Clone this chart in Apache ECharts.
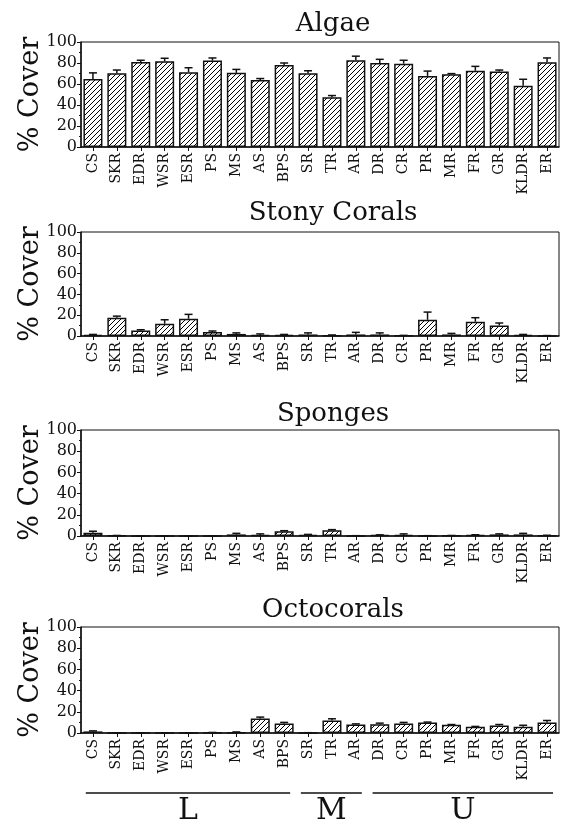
<!DOCTYPE html>
<html>
<head>
<meta charset="utf-8">
<script src="https://cdn.jsdelivr.net/npm/echarts@6/dist/echarts.min.js"></script>
<style>
html,body{margin:0;padding:0;background:#fff;}
#chart{width:561px;height:824px;}
</style>
</head>
<body>
<div id="chart"></div>
<script>
// ---------------- DATA ----------------
var categories = ['CS','SKR','EDR','WSR','ESR','PS','MS','AS','BPS','SR','TR','AR','DR','CR','PR','MR','FR','GR','KLDR','ER'];
var panelTitles = ['Algae','Stony Corals','Sponges','Octocorals'];

var algae    = [64.8,70.3,81,81.6,71.3,82.3,70.6,63.9,78,70.3,47.4,82.6,80,79.4,67.7,69.4,72.6,72,58.4,80.6];
var algaeErr = [5.8,3,1.6,2.9,4.2,2.5,3.3,1.3,2,2.3,1.6,3.9,3.5,3.2,4.6,0.5,4.2,1.3,6.1,4.2];

var stony    = [1,17.6,5.4,11.8,16.6,3.8,2,1,1,1.5,0.3,1.5,1.5,0.3,15.6,1.5,13.7,10.2,1,0.2];
var stonyErr = [0.5,1.5,0.6,3.8,4.2,1,1,1,0.5,1.5,0.7,2,1.5,0.3,7.4,1,3.9,2.3,0.5,0.2];

var sponges    = [3,0.3,0,0,0,0,1.5,1,4.5,1,5.5,0.2,0.8,1,0.2,0.3,0.8,1.5,1.5,0.5];
var spongesErr = [1.5,0.2,0,0,0,0,1,1,0.5,0.5,0.5,0.1,0.3,1,0.1,0.2,0.4,0.5,1,0.2];

var octo    = [1.5,0,0,0,0,0.3,0.5,13.7,9,0.2,11.8,8,8.3,9,10,7.7,5.8,7,6,10];
var octoErr = [0.5,0,0,0,0,0.2,0.5,1.3,1,0.1,1.6,0.6,1,1,0.3,0.3,0.4,1,1.3,1.8];

var yTicks = [0,20,40,60,80,100];
var yLabel = '% Cover';

var groupLabels = ['L','M','U'];
var groupFirst  = ['CS','SR','DR'];
var groupLast   = ['BPS','AR','ER'];

// ---------------- STYLE / LAYOUT ----------------
var FONT = 'DejaVu Serif';
var gridTops = [42, 232, 430, 627];
var gridHeights = [105, 104, 106, 106];
var titleTops = [6, 195, 396, 592];

function makeHatch(){
  var c = document.createElement('canvas');
  var s = 5;
  c.width = s; c.height = s;
  var ctx = c.getContext('2d');
  ctx.fillStyle = '#fff';
  ctx.fillRect(0,0,s,s);
  ctx.strokeStyle = '#000';
  ctx.lineWidth = 1;
  ctx.beginPath();
  ctx.moveTo(-1, s+1); ctx.lineTo(s+1, -1);
  ctx.moveTo(-1, 1); ctx.lineTo(1, -1);
  ctx.moveTo(s-1, s+1); ctx.lineTo(s+1, s-1);
  ctx.stroke();
  return c;
}
var hatch = makeHatch();

var values = [algae, stony, sponges, octo];
var errs = [algaeErr, stonyErr, spongesErr, octoErr];

var grids = [], xAxes = [], yAxes = [], series = [], titles = [];
for (var i = 0; i < 4; i++) {
  grids.push({left: 81, right: 2, top: gridTops[i], height: gridHeights[i], show: true, borderColor: '#111', borderWidth: 1, backgroundColor: 'transparent'});
  titles.push({text: panelTitles[i], left: 328, top: titleTops[i], textAlign: 'center',
    textStyle: {fontFamily: FONT, fontSize: 26, fontWeight: 'normal', color: '#111'}});
  xAxes.push({type: 'category', gridIndex: i, data: categories,
    axisLine: {lineStyle: {color: '#111', width: 1.5}},
    axisTick: {show: true, alignWithLabel: true, length: 4, lineStyle: {color: '#111'}},
    axisLabel: {rotate: 90, fontFamily: FONT, fontSize: 14, color: '#111', margin: 6, interval: 0}
  });
  yAxes.push({type: 'value', gridIndex: i, min: yTicks[0], max: yTicks[yTicks.length-1], interval: 20,
    name: yLabel, nameLocation: 'middle', nameRotate: 90, nameGap: 37, nameMoveOverlap: false,
    nameTextStyle: {fontFamily: FONT, fontSize: 27, color: '#111'},
    axisLine: {show: true, lineStyle: {color: '#111', width: 1.5}},
    axisTick: {show: true, length: 4, lineStyle: {color: '#111'}},
    minorTick: {show: true, splitNumber: 2, length: 2, lineStyle: {color: '#111'}},
    splitLine: {show: false},
    axisLabel: {fontFamily: FONT, fontSize: 16, color: '#111', margin: 4}
  });
  series.push({type: 'bar', xAxisIndex: i, yAxisIndex: i, data: values[i], barWidth: 19,
    itemStyle: {color: {image: hatch, repeat: 'repeat'}, borderColor: '#111', borderWidth: 1.5},
    emphasis: {disabled: true}, animation: false, z: 2});
  (function(idx){
    var errData = values[idx].map(function(v, k){ return [k, v, v + errs[idx][k]]; });
    series.push({type: 'custom', xAxisIndex: idx, yAxisIndex: idx, data: errData, z: 3, animation: false,
      renderItem: function(params, api){
        var x = api.value(0);
        var p0 = api.coord([x, api.value(1)]);
        var p1 = api.coord([x, api.value(2)]);
        var half = 4;
        return {type: 'group', children: [
          {type: 'line', shape: {x1: p0[0], y1: p0[1], x2: p1[0], y2: p1[1]}, style: {stroke: '#111', lineWidth: 1.5}},
          {type: 'line', shape: {x1: p1[0]-half, y1: p1[1], x2: p1[0]+half, y2: p1[1]}, style: {stroke: '#111', lineWidth: 1.5}}
        ]};
      }
    });
  })(i);
}

var chart = echarts.init(document.getElementById('chart'), null, {renderer: 'canvas'});
chart.setOption({
  backgroundColor: '#fff',
  animation: false,
  title: titles,
  grid: grids,
  xAxis: xAxes,
  yAxis: yAxes,
  series: series
});

// group brackets under the bottom panel, positioned from the axis scale
var catW = chart.convertToPixel({xAxisIndex: 3}, categories[1]) - chart.convertToPixel({xAxisIndex: 3}, categories[0]);
var gfx = [];
var lineY = 793;
for (var g = 0; g < groupLabels.length; g++) {
  var x1 = chart.convertToPixel({xAxisIndex: 3}, groupFirst[g]) - catW * 0.3;
  var x2 = chart.convertToPixel({xAxisIndex: 3}, groupLast[g]) + catW * 0.25;
  gfx.push({type: 'line', shape: {x1: x1, y1: lineY, x2: x2, y2: lineY}, style: {stroke: '#111', lineWidth: 1.5}});
  gfx.push({type: 'text', x: (x1 + x2) / 2, y: lineY + 3, style: {text: groupLabels[g], font: '30px "' + FONT + '"', fill: '#111', textAlign: 'center', textVerticalAlign: 'top'}});
}
chart.setOption({graphic: gfx});
</script>
</body>
</html>
